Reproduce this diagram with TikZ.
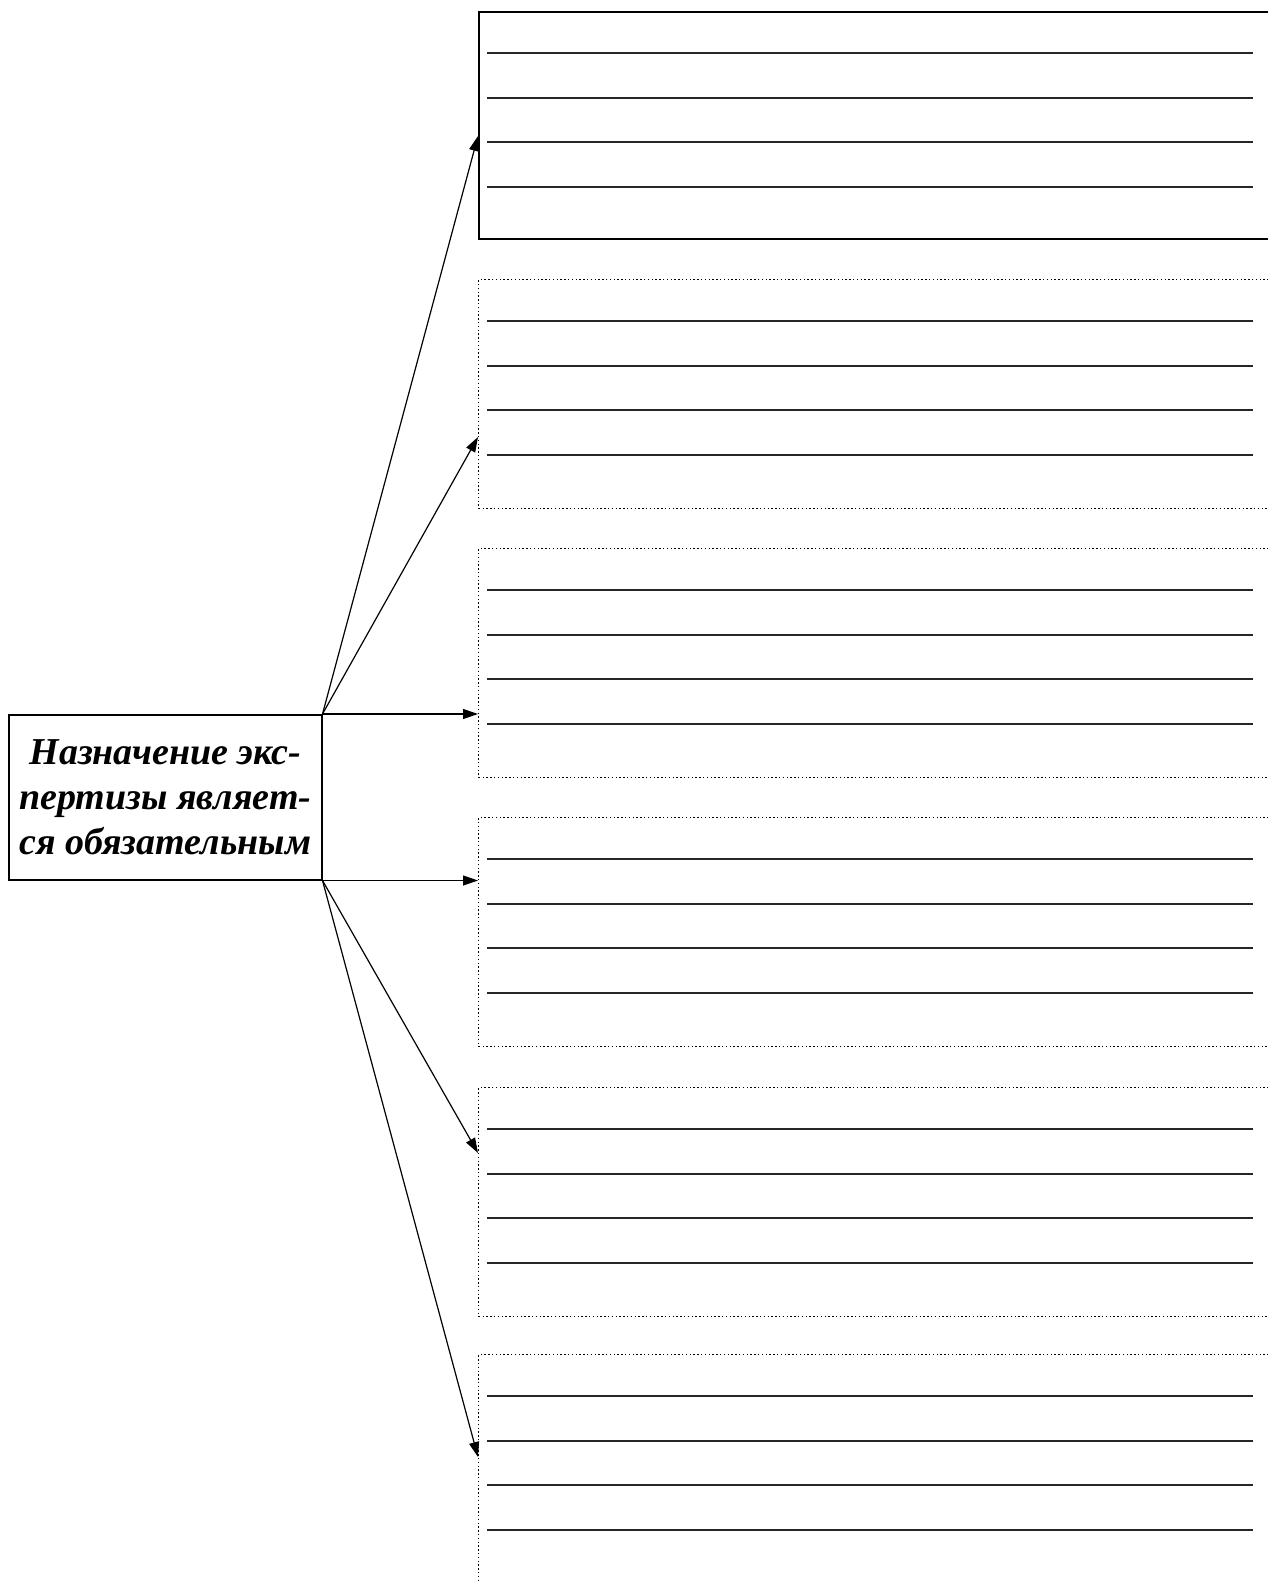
\documentclass[tikz,border=0pt]{standalone}
\usepackage{fontspec}
\setmainfont{Liberation Serif}
\usetikzlibrary{arrows.meta,calc}
\tikzset{
  solidbox/.style={draw, line width=2pt, rectangle, anchor=north west, minimum width=820pt, minimum height=227pt, inner sep=0pt},
  dotbox/.style={draw, line width=1.4pt, dash pattern=on 1.4pt off 2.4pt, rectangle, anchor=north west, minimum width=820pt, minimum height=229pt, inner sep=0pt},
  ruled/.style={line width=1.7pt, black!85},
  arr/.style={line width=1.2pt, -{Triangle[length=15pt,width=10pt]}},
  mainbox/.style={draw, line width=1.5pt, rectangle, anchor=north west, minimum width=313pt, minimum height=165pt, inner sep=0pt, align=center, font=\fontsize{38pt}{45pt}\selectfont\bfseries\itshape}
}
\begin{document}
\begin{tikzpicture}[x=1pt,y=-1pt]
\useasboundingbox (0,0) rectangle (1268,1581);
\clip (0,0) rectangle (1268,1581);
\fill[white] (0,0) rectangle (1268,1581);

\node[solidbox] (b1) at (478,11) {};
\node[dotbox] (b2) at (478,279) {};
\node[dotbox] (b3) at (478,548) {};
\node[dotbox] (b4) at (478,817) {};
\node[dotbox] (b5) at (478,1087) {};
\node[dotbox] (b6) at (478,1354) {};

\foreach \b in {b1,b2,b3,b4,b5,b6}{
  \foreach \dy in {42,87,131,176}{
    \draw[ruled] ($(\b.north west)+(9,\dy)$) -- ($(\b.north west)+(775,\dy)$);
  }
}

\node[mainbox] (m) at (8,714) {Назначение экс-\\пертизы являет-\\ся обязательным};

\coordinate (t1) at (478,136);
\coordinate (t2) at (478,437);
\coordinate (t5) at (478,1153);
\coordinate (t6) at (478,1457);

\draw[arr] (m.north east) -- (t1);
\draw[arr] (m.north east) -- (t2);
\draw[arr] (m.north east) -- (m.north east -| b3.west);
\draw[arr] (m.south east) -- (m.south east -| b4.west);
\draw[arr] (m.south east) -- (t5);
\draw[arr] (m.south east) -- (t6);
\end{tikzpicture}
\end{document}
